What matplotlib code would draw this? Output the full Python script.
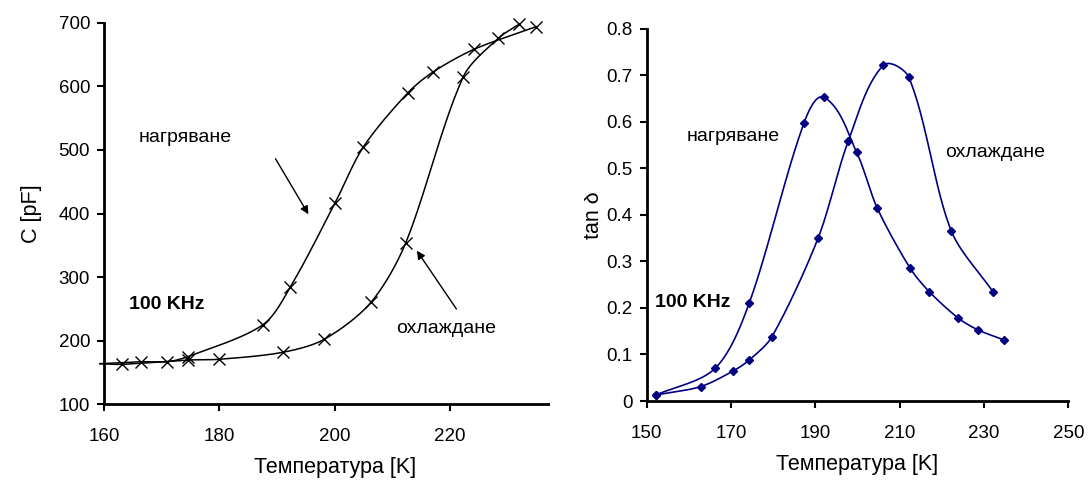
import matplotlib.pyplot as plt
import numpy as np
from matplotlib.patches import Rectangle

plt.rcParams['font.family'] = ['Liberation Sans', 'DejaVu Sans']

# ляв график: капацитет
t_heat_c = [159.3, 166.5, 171.0, 174.5, 187.5, 192.3, 200.1, 205.0, 212.7, 217.1, 224.2, 234.9]
c_heat = [163.5, 166.6, 166.6, 174.5, 224.4, 283.8, 417, 505, 590, 623, 658.6, 694]
t_cool_c = [159.3, 163.1, 174.6, 179.9, 191.0, 198.2, 206.3, 212.3, 222.3, 228.4, 232.0]
c_cool = [163.5, 162.5, 169.3, 170.4, 181.4, 201.9, 260, 353, 615, 676, 698]

# десен график: tan delta
t_heat_d = [152.2, 166.2, 174.3, 187.3, 192.1, 199.8, 204.7, 212.5, 217.0, 223.9, 228.5, 234.8]
d_heat = [0.013, 0.070, 0.210, 0.597, 0.652, 0.534, 0.414, 0.285, 0.235, 0.178, 0.153, 0.131]
t_cool_d = [152.2, 162.8, 170.5, 174.3, 179.7, 190.7, 197.8, 206.1, 212.2, 222.2, 232.1]
d_cool = [0.013, 0.031, 0.0645, 0.088, 0.138, 0.351, 0.558, 0.721, 0.695, 0.366, 0.235]


def smooth(x, y, sx, sy, n=30, k=0.3):
    # безие през точките, рамената пропорционални на дължината на сегмента
    p = np.column_stack([np.asarray(x) * sx, np.asarray(y) * sy])
    p = np.vstack([p[0], p, p[-1]])
    out = []
    for i in range(1, len(p) - 2):
        p0, p1, p2, p3 = p[i - 1], p[i], p[i + 1], p[i + 2]
        L = np.linalg.norm(p2 - p1)
        d1 = p2 - p0
        d2 = p3 - p1
        b1 = p1 + d1 / (np.linalg.norm(d1) + 1e-9) * L * k
        b2 = p2 - d2 / (np.linalg.norm(d2) + 1e-9) * L * k
        t = np.linspace(0, 1, n)[:, None]
        seg = (1 - t) ** 3 * p1 + 3 * (1 - t) ** 2 * t * b1 + 3 * (1 - t) * t ** 2 * b2 + t ** 3 * p2
        out.append(seg)
    out = np.vstack(out)
    return out[:, 0] / sx, out[:, 1] / sy


fig = plt.figure(figsize=(10.88, 4.82), dpi=100)
ax1 = fig.add_axes([0.0956, 0.1618, 0.4239, 0.7905])
ax2 = fig.add_axes([0.5944, 0.168, 0.3875, 0.7728])

navy = '#000080'
fs_lab = 15.5
fs_tick = 13.5
fs_txt = 14

# ляв
sx, sy = 5.765, 0.635
for t, c in [(t_heat_c, c_heat), (t_cool_c, c_cool)]:
    xs, ys = smooth(t, c, sx, sy)
    ax1.plot(xs, ys, color='black', lw=1.1, clip_on=False)
    ax1.plot(t[1:], c[1:], 'x', color='black', ms=9, mew=1.0, clip_on=False)
ax1.set_xlim(160, 240)
ax1.set_ylim(100, 700)
ax1.set_xticks(range(160, 241, 20))
ax1.set_yticks(range(100, 701, 100))
ax1.set_xlabel('Температура [K]', fontsize=fs_lab, labelpad=9)
ax1.set_ylabel('C [pF]', fontsize=fs_lab, labelpad=12)
ax1.text(174, 520, 'нагряване', fontsize=fs_txt, ha='center', va='center')
ax1.annotate('', xy=(195.7, 395), xytext=(189.5, 490),
             arrowprops=dict(arrowstyle='-|>', color='black', lw=1, mutation_scale=12))
ax1.text(219.4, 219, 'охлаждане', fontsize=fs_txt, ha='center', va='center')
ax1.annotate('', xy=(214.0, 345), xytext=(221.4, 246),
             arrowprops=dict(arrowstyle='-|>', color='black', lw=1, mutation_scale=12))
ax1.text(164.4, 256, '100 KHz', fontsize=fs_txt, fontweight='bold', ha='left', va='center')

# десен
sx2, sy2 = 4.215, 465
for t, d in [(t_heat_d, d_heat), (t_cool_d, d_cool)]:
    xs, ys = smooth(t, d, sx2, sy2)
    ax2.plot(xs, ys, color=navy, lw=1.2)
    ax2.plot(t, d, 'D', color=navy, ms=4.5)
ax2.set_xlim(150, 250)
ax2.set_ylim(0, 0.8)
ax2.set_xticks(range(150, 251, 20))
ax2.set_yticks(np.arange(0, 0.81, 0.1))
ax2.set_yticklabels(['0', '0.1', '0.2', '0.3', '0.4', '0.5', '0.6', '0.7', '0.8'])
ax2.set_xlabel('Температура [K]', fontsize=fs_lab, labelpad=9)
ax2.set_ylabel('tan δ', fontsize=fs_lab, labelpad=2)
ax2.text(159.5, 0.568, 'нагряване', fontsize=fs_txt, ha='left', va='center')
ax2.text(220.8, 0.533, 'охлаждане', fontsize=fs_txt, ha='left', va='center')
ax2.text(152, 0.212, '100 KHz', fontsize=fs_txt, fontweight='bold', ha='left', va='center')

for ax in (ax1, ax2):
    for s in ('top', 'right'):
        ax.spines[s].set_visible(False)
    for s in ('left', 'bottom'):
        ax.spines[s].set_linewidth(2)
    ax.tick_params(direction='out', length=5, width=1.5, labelsize=fs_tick, pad=5)
    ax.tick_params(axis='x', pad=12)

# левият график е отрязан вдясно
fig.add_artist(Rectangle((550 / 1088, 0), 34 / 1088, 1, transform=fig.transFigure,
                         facecolor='white', edgecolor='none', zorder=10))

fig.savefig('out.png', dpi=100)
